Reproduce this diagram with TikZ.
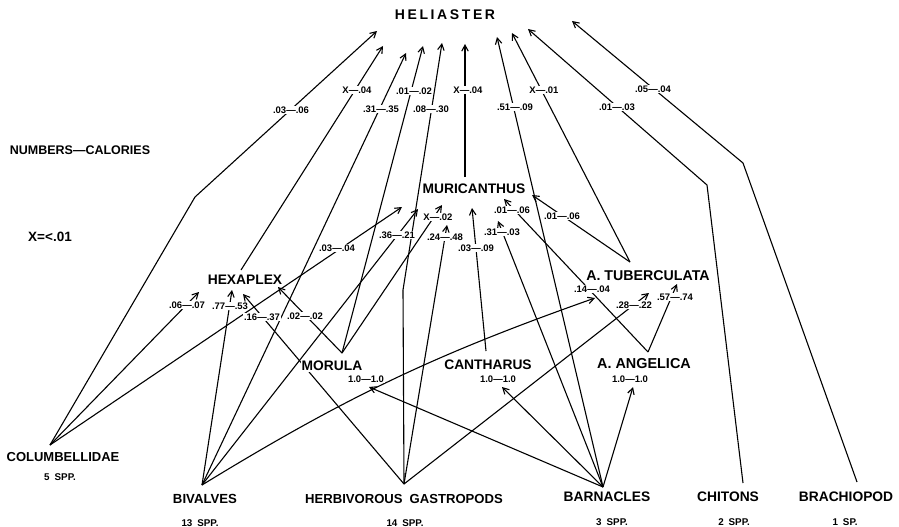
\documentclass[tikz,border=0pt]{standalone}
\usepackage{fontspec}
\setmainfont{Liberation Sans}
\usetikzlibrary{arrows.meta,backgrounds}
\newcommand\helgap{\hspace{2.6pt}}
\begin{document}
\begin{tikzpicture}[x=1pt,y=-1pt,
  taxon/.style={font=\fontsize{13.8}{15}\selectfont\bfseries, fill=white, inner sep=1.2pt},
  num/.style={font=\fontsize{9.5}{10}\selectfont\bfseries, fill=white, inner sep=1pt},
  spp/.style={font=\fontsize{9.8}{11}\selectfont\bfseries, inner sep=1pt},
  note/.style={font=\fontsize{12.5}{14}\selectfont\bfseries, inner sep=1pt},
  link/.style={line width=1.1pt, line join=round},
  arr/.style={link, -{Straight Barb[length=6pt,width=6.5pt]}}]
\useasboundingbox (0,0) rectangle (899,527);

% ---------- taxa ----------
\node[font=\fontsize{14}{16}\selectfont\bfseries] (hel) at (445,15)
  {H\helgap E\helgap L\helgap I\helgap A\helgap S\helgap T\helgap E\helgap R};
\node[note] (numcal) at (80,150) {NUMBERS—CALORIES};
\node[note, font=\fontsize{13.5}{14}\selectfont\bfseries] (xlt) at (50,237) {X=<.01};
\node[taxon] (mur) at (474,189) {MURICANTHUS};
\node[taxon] (hex) at (245,280) {HEXAPLEX};
\node[taxon, font=\fontsize{14.2}{15}\selectfont\bfseries] (tub) at (648,276) {A.\ TUBERCULATA};
\node[taxon] (mor) at (332,366) {MORULA};
\node[taxon] (can) at (488,365) {CANTHARUS};
\node[taxon, font=\fontsize{14.4}{15}\selectfont\bfseries] (ang) at (644,364) {A.\ ANGELICA};
\node[taxon, font=\fontsize{13}{15}\selectfont\bfseries] (col) at (63,457) {COLUMBELLIDAE};
\node[taxon, font=\fontsize{13.2}{15}\selectfont\bfseries] (biv) at (205,499) {BIVALVES};
\node[taxon, font=\fontsize{13.1}{15}\selectfont\bfseries] (hg) at (404,499) {HERBIVOROUS\hspace{7pt}GASTROPODS};
\node[taxon] (bar) at (607,497) {BARNACLES};
\node[taxon] (chi) at (728,497) {CHITONS};
\node[taxon] (bra) at (846,497) {BRACHIOPOD};

\node[spp] (colspp) at (60,477) {5\hspace{5pt}SPP.};
\node[spp] (bivspp) at (200,523) {13\hspace{5pt}SPP.};
\node[spp] (hgspp) at (405,523) {14\hspace{5pt}SPP.};
\node[spp] (barspp) at (612,522) {3\hspace{5pt}SPP.};
\node[spp] (chispp) at (734,522) {2\hspace{5pt}SPP.};
\node[spp] (braspp) at (845,522) {1\hspace{5pt}SP.};

% ---------- apexes and bends ----------
\coordinate (colA) at (50,445);
\coordinate (colBend) at (195,197);
\coordinate (bivA) at (202,485);
\coordinate (hgA) at (404,484);
\coordinate (hgBend) at (403,290);
\coordinate (barA) at (603,487);
\coordinate (chiA) at (743,483);
\coordinate (chiBend) at (707,185);
\coordinate (braA) at (857,482);
\coordinate (braBend) at (743,163);
\coordinate (morA) at (342,353);
\coordinate (hexA) at (241,270);
\coordinate (murA) at (465,177);
\coordinate (tubA) at (630,262);
\coordinate (angA) at (648,352);
\coordinate (canA) at (486,351);

% ---------- arrow tips ----------
\coordinate (t1) at (377,31);
\coordinate (t2) at (383,46);
\coordinate (t3) at (406,53);
\coordinate (t4) at (423,46);
\coordinate (t5) at (442,43);
\coordinate (t6) at (465,44);
\coordinate (t7) at (497,37);
\coordinate (t8) at (512,33);
\coordinate (t9) at (528,29);
\coordinate (t10) at (572,21);
\coordinate (t11) at (199,292);
\coordinate (t12) at (232,290);
\coordinate (t13) at (243,294);
\coordinate (t14) at (278,287);
\coordinate (t15) at (402,207);
\coordinate (t16) at (418,209);
\coordinate (t17) at (442,205);
\coordinate (t18) at (447,225);
\coordinate (t19) at (472,208);
\coordinate (t20) at (498,221);
\coordinate (t21) at (504,199);
\coordinate (t22) at (532,195);
\coordinate (t23) at (595,298);
\coordinate (t24) at (649,293);
\coordinate (t25) at (677,284);
\coordinate (t26) at (369,387);
\coordinate (t27) at (502,387);
\coordinate (t28) at (633,387);

% ---------- calorie labels ----------
\node[num] (L1) at (291,110) {.03—.06};
\node[num] (L2) at (357,90) {X—.04};
\node[num] (L3) at (381,109) {.31—.35};
\node[num] (L4) at (414,91) {.01—.02};
\node[num] (L5) at (431,109) {.08—.30};
\node[num] (L6) at (468,90) {X—.04};
\node[num] (L7) at (515,107) {.51—.09};
\node[num] (L8) at (544,90) {X—.01};
\node[num] (L9) at (617,107) {.01—.03};
\node[num] (L10) at (653,89) {.05—.04};
\node[num] (L11) at (187,305) {.06—.07};
\node[num] (L12) at (230,306) {.77—.53};
\node[num] (L13) at (262,317) {.16—.37};
\node[num] (L14) at (305,316) {.02—.02};
\node[num] (L15) at (337,248) {.03—.04};
\node[num] (L16) at (397,235) {.36—.21};
\node[num] (L17) at (438,217) {X—.02};
\node[num] (L18) at (445,237) {.24—.48};
\node[num] (L19) at (476,248) {.03—.09};
\node[num] (L20) at (502,232) {.31—.03};
\node[num] (L21) at (512,210) {.01—.06};
\node[num] (L22) at (562,216) {.01—.06};
\node[num] (L23) at (592,289) {.14—.04};
\node[num] (L24) at (634,305) {.28—.22};
\node[num] (L25) at (675,297) {.57—.74};
\node[num] (L26) at (366,379) {1.0—1.0};
\node[num] (L27) at (498,379) {1.0—1.0};
\node[num] (L28) at (630,379) {1.0—1.0};

% ---------- connectors (under the labels) ----------
\begin{scope}[on background layer]
  % to Heliaster
  \draw[arr] (colA) -- (colBend) -- (t1);
  \draw[arr] (hexA) -- (t2);
  \draw[arr] (bivA) -- (t3);
  \draw[arr] (morA) -- (t4);
  \draw[arr] (hgA) -- (hgBend) -- (t5);
  \draw[arr] (murA) -- (t6);
  \draw[arr] (barA) -- (t7);
  \draw[arr] (tubA) -- (t8);
  \draw[arr] (chiA) -- (chiBend) -- (t9);
  \draw[arr] (braA) -- (braBend) -- (t10);
  % to Hexaplex
  \draw[arr] (colA) -- (t11);
  \draw[arr] (bivA) -- (t12);
  \draw[arr] (hgA) -- (t13);
  \draw[arr] (morA) -- (t14);
  % to Muricanthus
  \draw[arr] (colA) -- (t15);
  \draw[arr] (bivA) -- (t16);
  \draw[arr] (morA) -- (t17);
  \draw[arr] (hgA) -- (t18);
  \draw[arr] (canA) -- (t19);
  \draw[arr] (barA) -- (t20);
  \draw[arr] (angA) -- (t21);
  \draw[arr] (tubA) -- (t22);
  % to A. tuberculata
  \draw[arr] (bivA) to[bend left=6] (t23);
  \draw[arr] (hgA) -- (t24);
  \draw[arr] (angA) -- (t25);
  % to Morula, Cantharus, A. angelica
  \draw[arr] (barA) -- (t26);
  \draw[arr] (barA) -- (t27);
  \draw[arr] (barA) -- (t28);
\end{scope}
\end{tikzpicture}
\end{document}
